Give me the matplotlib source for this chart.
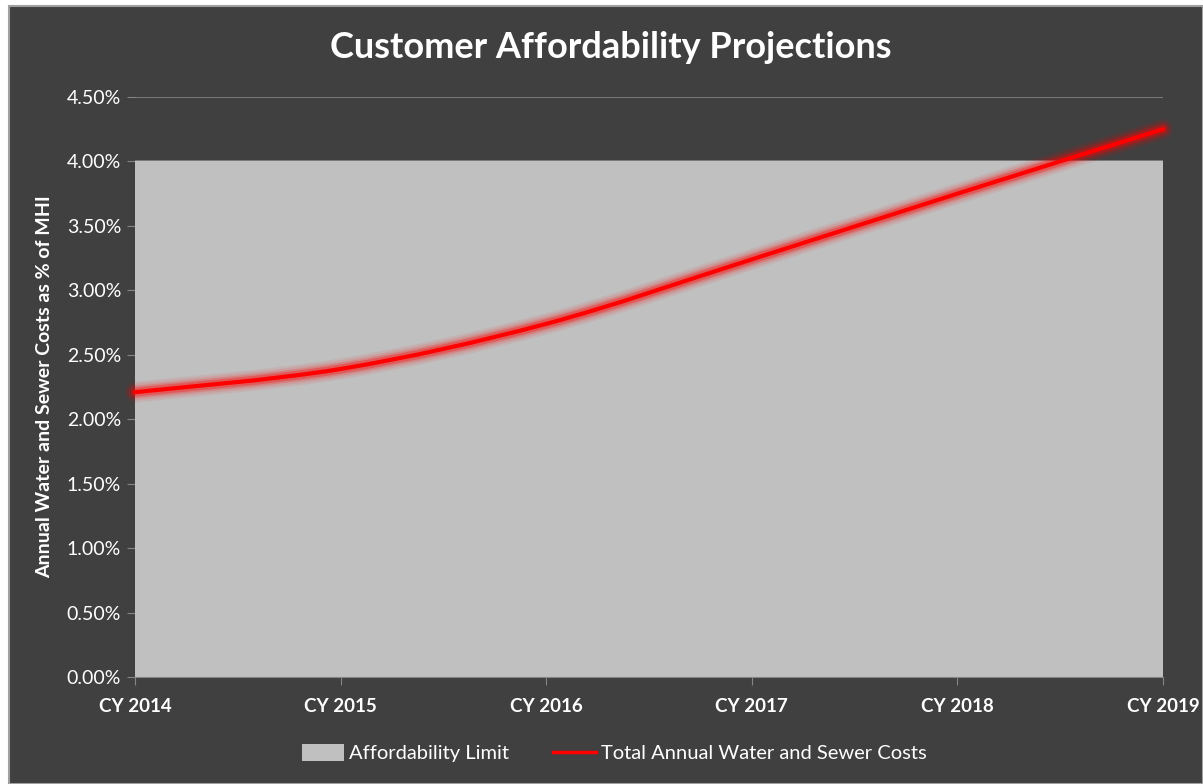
import matplotlib.pyplot as plt
import numpy as np
from matplotlib.patches import Rectangle, Patch
from matplotlib.lines import Line2D
from matplotlib.path import Path
from matplotlib.patches import PathPatch

years = ["CY 2014", "CY 2015", "CY 2016", "CY 2017", "CY 2018", "CY 2019"]
affordability_limit = [4.00, 4.00, 4.00, 4.00, 4.00, 4.00]
total_costs = [2.21, 2.39, 2.74, 3.24, 3.75, 4.25]
y_ticks = [0.0, 0.5, 1.0, 1.5, 2.0, 2.5, 3.0, 3.5, 4.0, 4.5]

BG = "#404040"
AREA = "#c0c0c0"
FONT = ["Lato", "DejaVu Sans"]


def smooth_path(x, y, tension=1 / 6):
    # Excel-like smoothed line: cubic Bezier through each data point
    x = np.asarray(x, float)
    y = np.asarray(y, float)
    n = len(x)
    verts = [(x[0], y[0])]
    codes = [Path.MOVETO]
    for i in range(n - 1):
        x0, y0 = (x[i - 1], y[i - 1]) if i > 0 else (x[i], y[i])
        x3, y3 = (x[i + 2], y[i + 2]) if i + 2 < n else (x[i + 1], y[i + 1])
        c1 = (x[i] + (x[i + 1] - x0) * tension, y[i] + (y[i + 1] - y0) * tension)
        c2 = (x[i + 1] - (x3 - x[i]) * tension, y[i + 1] - (y3 - y[i]) * tension)
        verts += [c1, c2, (x[i + 1], y[i + 1])]
        codes += [Path.CURVE4] * 3
    return Path(verts, codes)


fig = plt.figure(figsize=(12.03, 7.84), dpi=100, facecolor="white")
fig.patches.append(Rectangle((9 / 1203, 0), 1 - 9 / 1203, 1 - 6 / 784,
                             transform=fig.transFigure, facecolor=BG,
                             edgecolor="#a0a0a0", linewidth=1.5, zorder=-5))

ax = fig.add_axes([135 / 1203, 1 - 677 / 784, (1163 - 135) / 1203, (677 - 97) / 784])
ax.set_facecolor(BG)
x = np.arange(len(years))

for yv in y_ticks:
    ax.axhline(yv, color="#858585", linewidth=1.2, zorder=1)

ax.fill_between(x, 0, affordability_limit, color=AREA, linewidth=0, zorder=2)

path = smooth_path(x, total_costs)
for lw, alpha in [(15, 0.07), (12, 0.1), (9, 0.18), (6.5, 0.3)]:
    ax.add_patch(PathPatch(path, facecolor="none", edgecolor="red", linewidth=lw,
                           alpha=alpha, capstyle="round", zorder=3, clip_on=False))
ax.add_patch(PathPatch(path, facecolor="none", edgecolor="#ff0000", linewidth=3,
                       capstyle="round", zorder=4, clip_on=False))

ax.set_xlim(0, len(years) - 1)
ax.set_ylim(0, 4.5)
ax.set_xticks(x)
ax.set_xticklabels(years, fontfamily=FONT, fontweight="bold", fontsize=13.5, color="white")
ax.set_yticks(y_ticks)
ax.set_yticklabels([f"{v:.2f}%" for v in y_ticks], fontfamily=FONT, fontsize=14, color="white")
ax.tick_params(axis="x", length=6, color="#858585", pad=9)
ax.tick_params(axis="y", length=6, color="#858585", pad=4)
for side in ["top", "right", "left"]:
    ax.spines[side].set_visible(False)
ax.spines["bottom"].set_color("#858585")

ax.set_ylabel("Annual Water and Sewer Costs as % of MHI", fontfamily=FONT,
              fontweight="bold", fontsize=14, color="white", labelpad=10)

fig.text(611 / 1203, 1 - 48 / 784, "Customer Affordability Projections",
         fontfamily=FONT, fontweight="bold", fontsize=26, color="white",
         ha="center", va="center")

handles = [Patch(facecolor=AREA, edgecolor="none"),
           Line2D([0], [0], color="red", linewidth=2.5)]
leg = fig.legend(handles, ["Affordability Limit", "Total Annual Water and Sewer Costs"],
                 loc="center", bbox_to_anchor=(614 / 1203, 1 - 753 / 784), ncol=2,
                 frameon=False, prop={"family": FONT, "size": 14.5},
                 handlelength=2.1, handleheight=0.9, handletextpad=0.25, columnspacing=2.2)
for t in leg.get_texts():
    t.set_color("white")

fig.savefig("out.png", dpi=100, facecolor=fig.get_facecolor())
